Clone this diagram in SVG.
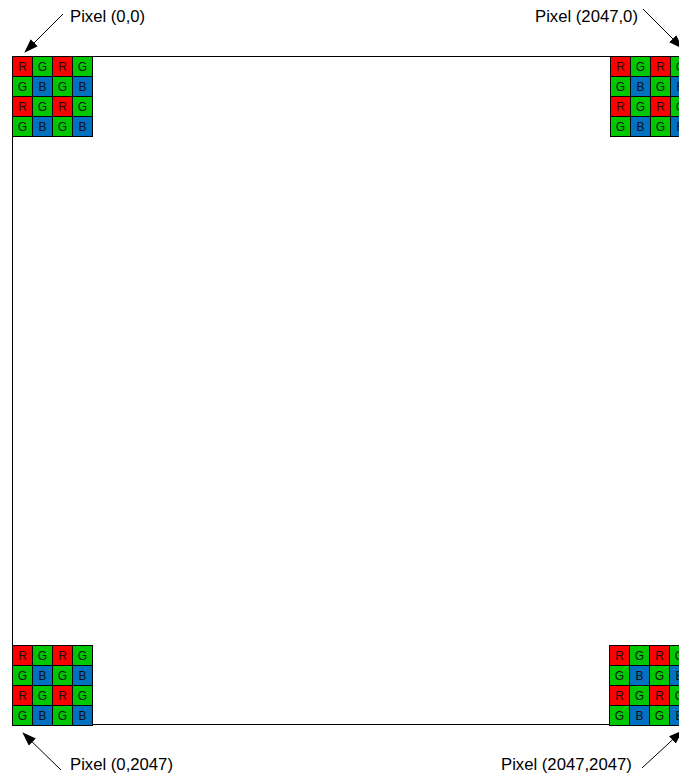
<svg xmlns="http://www.w3.org/2000/svg" xmlns:xlink="http://www.w3.org/1999/xlink" width="679" height="777" viewBox="0 0 679 777">
<style>
.r{fill:#ff0000;stroke:#000;stroke-width:1}
.g{fill:#00c800;stroke:#000;stroke-width:1}
.b{fill:#0070c0;stroke:#000;stroke-width:1}
.c{font-family:"Liberation Sans",Arial,sans-serif;font-size:12px;fill:#111;text-anchor:middle}
.lbl{font-family:"Liberation Sans",Arial,sans-serif;font-size:16.7px;fill:#000}
.frame{fill:none;stroke:#000;stroke-width:1}
.arr{stroke:#000;stroke-width:1;fill:none;marker-end:url(#ah)}
</style>
<defs>
<marker id="ah" markerWidth="14" markerHeight="10" refX="13" refY="5" orient="auto" markerUnits="userSpaceOnUse">
<path d="M0,0 L14,5 L0,10 Z" fill="#000"/>
</marker>
<g id="bayer">
<rect class="r" x="0" y="0" width="20" height="20"/><rect class="g" x="20" y="0" width="20" height="20"/><rect class="r" x="40" y="0" width="20" height="20"/><rect class="g" x="60" y="0" width="20" height="20"/>
<rect class="g" x="0" y="20" width="20" height="20"/><rect class="b" x="20" y="20" width="20" height="20"/><rect class="g" x="40" y="20" width="20" height="20"/><rect class="b" x="60" y="20" width="20" height="20"/>
<rect class="r" x="0" y="40" width="20" height="20"/><rect class="g" x="20" y="40" width="20" height="20"/><rect class="r" x="40" y="40" width="20" height="20"/><rect class="g" x="60" y="40" width="20" height="20"/>
<rect class="g" x="0" y="60" width="20" height="20"/><rect class="b" x="20" y="60" width="20" height="20"/><rect class="g" x="40" y="60" width="20" height="20"/><rect class="b" x="60" y="60" width="20" height="20"/>
<text class="c" x="10" y="14">R</text><text class="c" x="30" y="14">G</text><text class="c" x="50" y="14">R</text><text class="c" x="70" y="14">G</text>
<text class="c" x="10" y="34">G</text><text class="c" x="30" y="34">B</text><text class="c" x="50" y="34">G</text><text class="c" x="70" y="34">B</text>
<text class="c" x="10" y="54">R</text><text class="c" x="30" y="54">G</text><text class="c" x="50" y="54">R</text><text class="c" x="70" y="54">G</text>
<text class="c" x="10" y="74">G</text><text class="c" x="30" y="74">B</text><text class="c" x="50" y="74">G</text><text class="c" x="70" y="74">B</text>
</g>
</defs>
<rect width="679" height="777" fill="#fff"/>
<g id="sensor">
<rect class="frame" x="12.5" y="56.5" width="690" height="668"/>
</g>
<g id="tile-tl"><use xlink:href="#bayer" href="#bayer" transform="translate(12.5,56.5)"/></g>
<g id="tile-tr"><use xlink:href="#bayer" href="#bayer" transform="translate(610.5,56.5)"/></g>
<g id="tile-bl"><use xlink:href="#bayer" href="#bayer" transform="translate(12.5,645.5)"/></g>
<g id="tile-br"><use xlink:href="#bayer" href="#bayer" transform="translate(609.5,645.5)"/></g>
<g id="label-tl"><text class="lbl" x="70" y="22">Pixel (0,0)</text></g>
<g id="label-tr"><text class="lbl" x="535" y="22">Pixel (2047,0)</text></g>
<g id="label-bl"><text class="lbl" x="70" y="770">Pixel (0,2047)</text></g>
<g id="label-br"><text class="lbl" x="501" y="770">Pixel (2047,2047)</text></g>
<g id="connectors">
<line class="arr" x1="63" y1="14" x2="25" y2="52"/>
<line class="arr" x1="643" y1="9" x2="682" y2="48"/>
<line class="arr" x1="61" y1="770" x2="23" y2="733"/>
<line class="arr" x1="642" y1="768" x2="682" y2="731"/>
</g>
</svg>
